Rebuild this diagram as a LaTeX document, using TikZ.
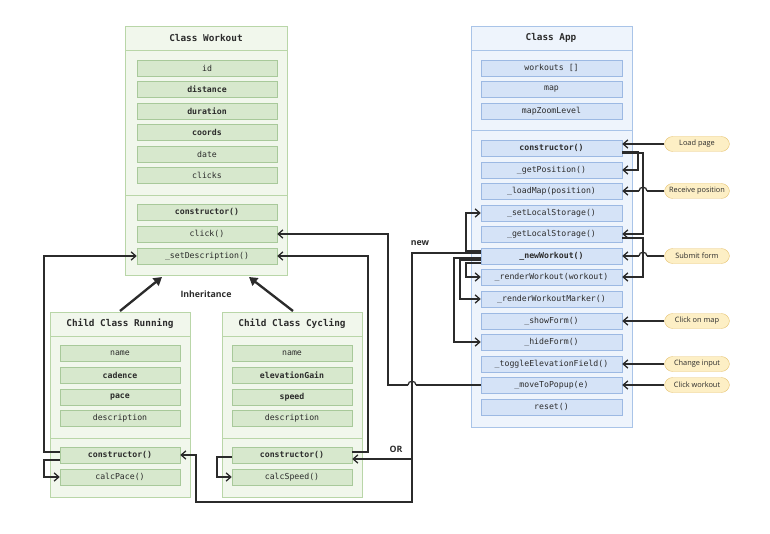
\documentclass[tikz,border=0pt]{standalone}
\usepackage{fontspec}
\setsansfont{Open Sans}
\setmonofont{DejaVu Sans Mono}
\usetikzlibrary{arrows.meta}
\definecolor{wfill}{HTML}{F1F7EC}
\definecolor{wline}{HTML}{B9D6A8}
\definecolor{wifill}{HTML}{D7E8CD}
\definecolor{wiline}{HTML}{A8C99A}
\definecolor{afill}{HTML}{EEF4FC}
\definecolor{aline}{HTML}{A9C4E8}
\definecolor{aifill}{HTML}{D5E3F7}
\definecolor{ailine}{HTML}{9CB9E3}
\definecolor{efill}{HTML}{FDEFC5}
\definecolor{eline}{HTML}{E8C77A}
\definecolor{ink}{HTML}{2B2B2B}
\tikzset{
  witem/.style={draw=wiline,fill=wifill,minimum height=16*0.03cm,inner sep=0pt,font=\ttfamily\fontsize{7}{8}\selectfont,text=ink},
  aitem/.style={draw=ailine,fill=aifill,minimum height=16*0.03cm,inner sep=0pt,font=\ttfamily\fontsize{7}{8}\selectfont,text=ink},
  title/.style={font=\ttfamily\bfseries\fontsize{8}{9}\selectfont,text=ink},
  evt/.style={draw=eline,fill=efill,rounded corners=7pt,minimum width=65*0.03cm,minimum height=15*0.03cm,inner sep=0pt,font=\sffamily\fontsize{6.3}{7}\selectfont,text=ink},
  wire/.style={draw=ink,line width=1.1pt},
  lnk/.style={wire,-{Straight Barb[length=4pt,width=7pt]}},
  lbl/.style={font=\sffamily\bfseries\fontsize{7.5}{8}\selectfont,text=ink},
  hop/.style={out=90,in=90,looseness=1.6}
}
\begin{document}
\begin{tikzpicture}[x=0.03cm,y=-0.03cm]
\useasboundingbox (0,0) rectangle (770,534);

%Class boxes
\draw[wline,fill=wfill] (125,26) rectangle (287,275);
\draw[wline] (125,50) -- (287,50) (125,195) -- (287,195);
\node[title] (wt) at (206,38) {Class Workout};
\draw[aline,fill=afill] (471,26) rectangle (632,427);
\draw[aline] (471,50) -- (632,50) (471,130) -- (632,130);
\node[title] (at) at (551,38) {Class App};
\draw[wline,fill=wfill] (50,312) rectangle (190,497);
\draw[wline] (50,336) -- (190,336) (50,438) -- (190,438);
\node[title] (rt) at (120,324) {Child Class Running};
\draw[wline,fill=wfill] (222,312) rectangle (362,497);
\draw[wline] (222,336) -- (362,336) (222,438) -- (362,438);
\node[title] (ct) at (292,324) {Child Class Cycling};

%Workout items
\foreach \n/\t/\y in {wid/id/68,wdist/\bfseries distance/89,wdur/\bfseries duration/111,wcoord/\bfseries coords/132,wdate/date/154,wclk/clicks/175,wcon/\bfseries constructor()/212,wclick/click()/234,wdesc/\_setDescription()/256}
  \node[witem,minimum width=140*0.03cm] (\n) at (207,\y) {\t};

%Running items
\foreach \n/\t/\y in {rname/name/353,rcad/\bfseries cadence/375,rpace/\bfseries pace/397,rdesc/description/418,rcon/\bfseries constructor()/455,rcalc/calcPace()/477}
  \node[witem,minimum width=120*0.03cm] (\n) at (120,\y) {\t};

%Cycling items
\foreach \n/\t/\y in {cname/name/353,celev/\bfseries elevationGain/375,cspeed/\bfseries speed/397,cdesc/description/418,ccon/\bfseries constructor()/455,ccalc/calcSpeed()/477}
  \node[witem,minimum width=120*0.03cm] (\n) at (292,\y) {\t};

%App items
\foreach \n/\t/\y in {awo/workouts []/68,amap/map/89,azoom/mapZoomLevel/111,acon/\bfseries constructor()/148,apos/\_getPosition()/170,aload/\_loadMap(position)/191,aset/\_setLocalStorage()/213,aget/\_getLocalStorage()/234,anew/\bfseries \_newWorkout()/256,arw/\_renderWorkout(workout)/277,arwm/\_renderWorkoutMarker()/299,ashow/\_showForm()/321,ahide/\_hideForm()/342,atog/\_toggleElevationField()/364,amove/\_moveToPopup(e)/385,areset/reset()/407}
  \node[aitem,minimum width=141*0.03cm] (\n) at (551.5,\y) {\t};

%Events
\node[evt] (eload) at (697,144) {Load page};
\node[evt] (erecv) at (697,191) {Receive position};
\node[evt] (esub) at (697,256) {Submit form};
\node[evt] (emap) at (697,321) {Click on map};
\node[evt] (einp) at (697,364) {Change input};
\node[evt] (eclk) at (697,385) {Click workout};

%Labels
\node[lbl] (inh) at (206,294) {Inheritance};
\node[lbl] (lnew) at (420,243) {new};
\node[lbl] (lor) at (396,449) {OR};
\coordinate (wbl) at (162,277);
\coordinate (wbr) at (249,277);

%Inheritance arrows
\draw[draw=ink,line width=2pt,-{Triangle[length=7pt,width=8pt]}] (120,311) -- (wbl);
\draw[draw=ink,line width=2pt,-{Triangle[length=7pt,width=8pt]}] (293,311) -- (wbr);

%Events to methods
\draw[lnk] (eload.west) -- (acon.east |- eload);
\draw[lnk,-] (erecv.west) -- (647,191);
\draw[wire] (647,191) to[hop] (639,191);
\draw[lnk] (639,191) -- (aload.east);
\draw[lnk,-] (esub.west) -- (647,256);
\draw[wire] (647,256) to[hop] (639,256);
\draw[lnk] (639,256) -- (anew.east);
\draw[lnk] (emap.west) -- (ashow.east);
\draw[lnk] (einp.west) -- (atog.east);
\draw[lnk] (eclk.west) -- (amove.east);

%Inside App, right side
\draw[lnk] (acon.east |- 0,152) -- (638,152) -- (638,170) -- (apos.east);
\draw[lnk] (acon.east |- 0,153) -- (643,153) -- (643,234) -- (aget.east);
\draw[lnk] (aget.east |- 0,238) -- (643,238) -- (643,277) -- (arw.east);

%Inside App, left side
\draw[lnk] (anew.west |- 0,251) -- (466,251) -- (466,213) -- (aset.west);
\draw[lnk] (anew.west |- 0,263) -- (466,263) -- (466,277) -- (arw.west);
\draw[lnk] (anew.west |- 0,260) -- (460,260) -- (460,299) -- (arwm.west);
\draw[lnk] (anew.west |- 0,258) -- (454,258) -- (454,342) -- (ahide.west);

%new Running / Cycling
\draw[lnk] (anew.west |- 0,253) -- (412,253) -- (412,502) -- (196,502) -- (196,455) -- (rcon.east);
\draw[lnk] (412,459) -- (ccon.east |- 0,459);
\draw[lnk,-] (amove.west) -- (416,385);
\draw[wire] (416,385) to[hop] (408,385);
\draw[lnk] (408,385) -- (388,385) -- (388,234) -- (wclick.east);

%Children to Workout
\draw[lnk] (rcon.west |- 0,452) -- (44,452) -- (44,256) -- (wdesc.west);
\draw[lnk] (ccon.east |- 0,452) -- (368,452) -- (368,256) -- (wdesc.east);
\draw[lnk] (rcon.west |- 0,460) -- (44,460) -- (44,477) -- (rcalc.west);
\draw[lnk] (ccon.west |- 0,457) -- (217,457) -- (217,477) -- (ccalc.west);
\end{tikzpicture}
\end{document}
